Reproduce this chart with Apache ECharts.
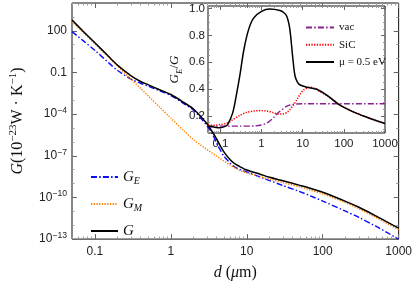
<!DOCTYPE html>
<html><head><meta charset="utf-8">
<script src="https://cdn.jsdelivr.net/npm/echarts@6/dist/echarts.min.js"></script>
<style>html,body{margin:0;padding:0;background:#fff}#c{width:415px;height:286px}</style>
</head><body><div id="c"></div><script>
// ---- main plot data: separation d (µm) and conductances G (1e-23 W/K)
const d = [0.05,0.07,0.1,0.15,0.2,0.3,0.4,0.5,0.7,1,1.5,2,3,3.5,4,4.5,5,6,7,8,10,15,20,30,50,70,100,200,300,500,700,1000];
const gE = [87,19.5,3.9,0.525,0.138,0.0324,0.0166,0.0105,4.9e-3,2.19e-3,5.5e-4,1.86e-4,1.45e-5,4.0e-6,8.1e-7,2.5e-7,9.5e-8,3.1e-8,1.51e-8,1.07e-8,6.8e-9,2.95e-9,1.62e-9,7.2e-10,2.6e-10,1.26e-10,5.5e-11,1.02e-11,3.6e-12,8.5e-13,3.0e-13,1.0e-13];
const gM = [468,77.6,11.7,1.32,0.282,0.0324,7.1e-3,2.14e-3,3.5e-4,5.2e-5,5.9e-6,1.41e-6,2.75e-7,1.58e-7,9.5e-8,6.2e-8,4.2e-8,2.24e-8,1.35e-8,9.1e-9,6.0e-9,3.1e-9,2.1e-9,1.17e-9,5.8e-10,3.3e-10,1.82e-10,4.2e-11,1.51e-11,3.7e-12,1.35e-12,4.7e-13];
const gTot = [589,93,13.8,1.51,0.324,0.0575,0.0224,0.0132,5.9e-3,2.57e-3,6.6e-4,2.24e-4,2.04e-5,5.6e-6,1.66e-6,5.0e-7,1.9e-7,5.4e-8,2.57e-8,1.74e-8,9.5e-9,4.7e-9,2.8e-9,1.58e-9,7.4e-10,4.4e-10,2.34e-10,5.2e-11,1.95e-11,4.7e-12,1.74e-12,6.2e-13];
// ---- inset data: G_E/G
const dVac = [0.05,0.3,0.7,1,1.4,2,2.5,3.4,4,5,7,10,1000];
const vacRatio = [0.124,0.124,0.126,0.133,0.15,0.19,0.222,0.255,0.272,0.282,0.289,0.291,0.291];
const dSiC = [0.05,0.07,0.1,0.145,0.2,0.3,0.44,0.7,1,1.4,1.93,2.6,3.4,4.2,4.96,6,7.2,8.7,10.5,15,20,26.6,38,55,80,139,250,352,600,1000];
const sicRatio = [0.131,0.131,0.136,0.148,0.172,0.205,0.228,0.238,0.24,0.236,0.225,0.214,0.215,0.228,0.25,0.283,0.32,0.362,0.394,0.414,0.405,0.381,0.352,0.319,0.281,0.244,0.21,0.193,0.165,0.144];
const dMu = [0.05,0.07,0.1,0.13,0.15,0.2,0.25,0.3,0.37,0.48,0.64,1,1.6,2.8,3.5,4.1,4.6,5,5.8,6.5,7.5,8.7,12.6,18,22,38.5,81,206,520,1000];
const muRatio = [0.125,0.117,0.112,0.122,0.135,0.225,0.372,0.51,0.69,0.84,0.93,0.98,0.997,0.986,0.97,0.944,0.89,0.82,0.62,0.5,0.45,0.431,0.414,0.405,0.399,0.356,0.281,0.219,0.174,0.144];
// ---- ticks
const xTicks = [0.1,1,10,100,1000];
const xTickLabels = ['0.1','1','10','100','1000'];
const yTicks = [1e-13,1e-10,1e-7,1e-4,0.1,100];
const yTickLabels = ['10^−13','10^−10','10^−7','10^−4','0.1','100'];
const insetYTicks = [0.2,0.4,0.6,0.8,1.0];
const insetYTickLabels = ['0.2','0.4','0.6','0.8','1.0'];

const L = Math.log10;
const SERIF = 'Liberation Serif';
const SANS = 'Liberation Sans';
const xMin = L(0.05), xMax = 3;
const xMajor = xTicks.map(L);
const xMinor = [];
for (let n=-2;n<=2;n++) for (let k=2;k<=9;k++){ const v=k*Math.pow(10,n); if (v>=0.05 && v<=1000) xMinor.push(L(v)); }
const yMajor = yTicks.map(v=>Math.round(L(v)));
const yMinor = [];
for (let n=-12;n<=4;n++) if (yMajor.indexOf(n)<0) yMinor.push(n);
const iyMinor = [];
for (let k=2;k<=20;k++){ const v=k*0.05; if (insetYTicks.every(t=>Math.abs(t-v)>1e-6)) iyMinor.push(+v.toFixed(2)); }

function lab(values, labels, v){
  let best=0; for (let i=1;i<values.length;i++) if (Math.abs(values[i]-v)<Math.abs(values[best]-v)) best=i;
  const s = labels[best];
  return s.indexOf('^')>=0 ? s.replace(/\^(.*)$/, '{sup|$1}') : s;
}
function axes(dim, grid, min, max, majors, minors, labels, o){
  const pos = dim==='x' ? ['bottom','top'] : ['left','right'];
  const base = {gridIndex:grid, type:'value', min:min, max:max, axisLine:{show:false, onZero:false}, splitLine:{show:false}};
  const res = [];
  pos.forEach((p,pi)=>{
    res.push(Object.assign({}, base, {position:p,
      axisTick:{show:true, inside:true, length:o.maj, customValues:majors, lineStyle:{color:'#666', width:1}},
      axisLabel: pi===0 ? {show:true, customValues:majors, margin:o.margin, fontSize:o.fs, fontFamily:SANS, color:'#222', lineHeight:o.fs+4,
        formatter:(v)=>lab(majors, labels, v), rich:{sup:{fontSize:o.fs*0.72, fontFamily:SANS, color:'#222', verticalAlign:'top'}}} : {show:false},
      name: pi===0 ? o.name : '', nameLocation:'middle', nameGap:o.nameGap, nameRotate:o.nameRotate, nameTextStyle:o.nameStyle
    }));
    res.push(Object.assign({}, base, {position:p,
      axisTick:{show:true, inside:true, length:o.min, customValues:minors, lineStyle:{color:'#999', width:1}},
      axisLabel:{show:false}}));
  });
  return res;
}
const italic = {fontFamily:SERIF, fontStyle:'italic', color:'#111'};
const xAxes = [].concat(
  axes('x',0,xMin,xMax,xMajor,xMinor,xTickLabels,{maj:5,min:2.5,margin:5,fs:12,
    name:'{i|d} {n|(}{i|μ}{n|m)}', nameGap:22, nameRotate:0,
    nameStyle:{fontSize:16, fontFamily:SERIF, color:'#111', rich:{i:Object.assign({fontSize:16},italic), n:{fontSize:16,fontFamily:SERIF,color:'#111'}}}}),
  axes('x',1,xMin,xMax,xMajor,xMinor,xTickLabels,{maj:4,min:2,margin:3,fs:11.5,name:'',nameGap:0,nameRotate:0,nameStyle:{}})
);
const yAxes = [].concat(
  axes('y',0,-13,4,yMajor,yMinor,yTickLabels,{maj:5,min:2.5,margin:5,fs:12,
    name:'{i|G}{n|(10}{sup|−23}{n|W · K}{sup|−1}{n|)}', nameGap:44, nameRotate:90,
    nameStyle:{fontSize:16, fontFamily:SERIF, color:'#111', lineHeight:20, rich:{i:Object.assign({fontSize:16},italic), n:{fontSize:16,fontFamily:SERIF,color:'#111'}, sup:{fontSize:11,fontFamily:SERIF,color:'#111',verticalAlign:'top'}}}}),
  axes('y',1,0.073,1.02,insetYTicks,iyMinor,insetYTickLabels,{maj:4,min:2,margin:3,fs:11.5,
    name:'{i|G}{s|E}{n|/}{i|G}', nameGap:24, nameRotate:90,
    nameStyle:{fontSize:13, fontFamily:SERIF, color:'#111', lineHeight:18, padding:[0,0,0,0], rich:{i:Object.assign({fontSize:13},italic), n:{fontSize:13,fontFamily:SERIF,color:'#111'}, s:Object.assign({fontSize:9,verticalAlign:'bottom'},italic)}}})
);

function pts(xs, ys){ return xs.map((x,i)=>[L(x), L(ys[i])]); }
function ptsLin(xs, ys){ return xs.map((x,i)=>[L(x), ys[i]]); }
const DASHDOT = [6,2.2,1.5,2.2];
const DOT = [1.3,1.4];
function ln(name, xi, data, color, width, type){
  return {name:name, type:'line', xAxisIndex:xi, yAxisIndex:xi, data:data, smooth:0.3, symbol:'none',
    itemStyle:{color:color}, lineStyle:{color:color, width:width, type:type}};
}
const series = [
  ln('G_E', 0, pts(d,gE), '#0a0aff', 1.4, DASHDOT),
  ln('G_M', 0, pts(d,gM), '#ff8000', 1.5, DOT),
  ln('G', 0, pts(d,gTot), '#000', 1.5, 'solid'),
  ln('vac', 4, ptsLin(dVac,vacRatio), '#8a1f8e', 1.4, DASHDOT),
  ln('SiC', 4, ptsLin(dSiC,sicRatio), '#ff0000', 1.5, DOT),
  ln('μ = 0.5 eV', 4, ptsLin(dMu,muRatio), '#000', 1.5, 'solid')
];
const legendRich = {'G_E':'{i|G}{s|E}', 'G_M':'{i|G}{s|M}', 'G':'{i|G}'};
const noSym = {color:'rgba(0,0,0,0)', borderColor:'rgba(0,0,0,0)', borderWidth:0, opacity:0};
const chart = echarts.init(document.getElementById('c'), null, {renderer:'canvas'});
chart.setOption({
  animation:false,
  backgroundColor:'#fff',
  grid:[
    {left:60, top:3, right:15, bottom:45, show:true, borderColor:'#111', borderWidth:1, backgroundColor:'transparent'},
    {left:208, top:6, right:30, bottom:153, show:true, borderColor:'#111', borderWidth:1, backgroundColor:'#fff'}
  ],
  xAxis:xAxes, yAxis:yAxes,
  legend:[
    {data:['G_E','G_M','G'], orient:'vertical', left:85, top:163, itemWidth:27, itemHeight:14, itemGap:9,
     itemStyle:noSym, formatter:(n)=>legendRich[n],
     textStyle:{fontSize:15, fontFamily:SERIF, color:'#111', lineHeight:18, rich:{i:Object.assign({fontSize:15},italic), s:Object.assign({fontSize:10,verticalAlign:'bottom'},italic)}}},
    {data:['vac','SiC','μ = 0.5 eV'], orient:'vertical', left:300, top:17, itemWidth:28, itemHeight:14, itemGap:6,
     itemStyle:noSym, textStyle:{fontSize:11, fontFamily:SERIF, color:'#111'}}
  ],
  series:series
});
</script></body></html>
